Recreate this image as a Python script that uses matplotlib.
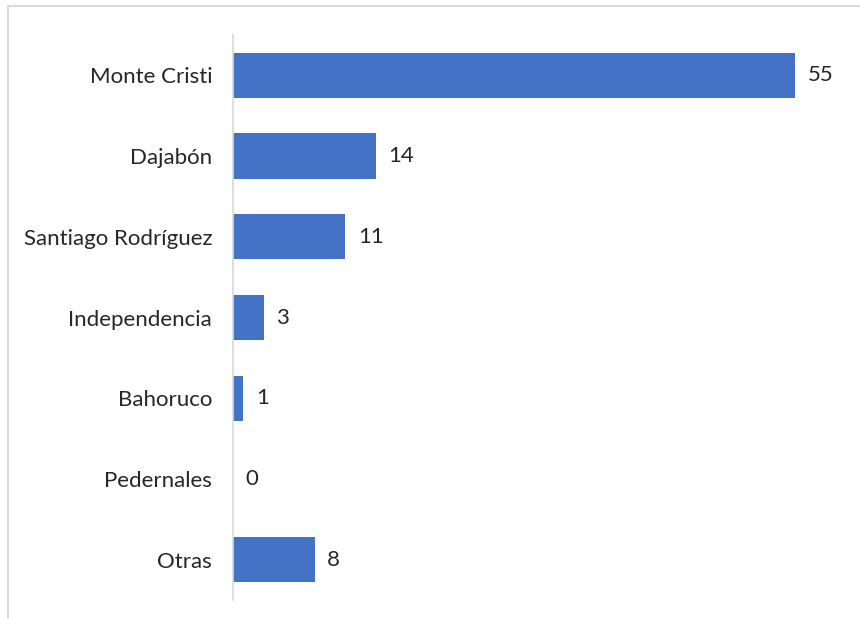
import matplotlib
matplotlib.use("Agg")
import matplotlib.pyplot as plt
from matplotlib.patches import Rectangle

provincias = ["Monte Cristi", "Dajabón", "Santiago Rodríguez", "Independencia",
              "Bahoruco", "Pedernales", "Otras"]
casos = [55, 14, 11, 3, 1, 0, 8]

W, H = 860, 618
fig = plt.figure(figsize=(W / 100, H / 100), dpi=100)
fig.patch.set_facecolor("white")

# chart area border (open on the right and bottom)
fig.add_artist(Rectangle((8 / W, -0.05), 1.2, 1 - 6 / H + 0.05,
                         transform=fig.transFigure, fill=False,
                         edgecolor="#d9d9d9", linewidth=1.5))

ax_left, ax_right = 233, 845
ax_top, ax_bottom = 35, 600
ax = fig.add_axes([ax_left / W, 1 - ax_bottom / H,
                   (ax_right - ax_left) / W, (ax_bottom - ax_top) / H])

ypos = list(range(len(provincias)))
ax.barh(ypos, casos, height=0.56, color="#4472C4")
ax.set_ylim(len(provincias) - 0.5, -0.5)
ax.set_xlim(0, 55 * (ax_right - ax_left) / (795 - ax_left))

font = "Lato"
for y, v in zip(ypos, casos):
    ax.annotate(str(v), xy=(v, y), xytext=(9, 0), textcoords="offset points",
                ha="left", va="center", fontsize=16, color="#262626",
                family=font)

ax.set_yticks(ypos)
ax.set_yticklabels(provincias, fontsize=16, color="#262626", family=font)
ax.tick_params(axis="y", length=0, pad=15)
ax.set_xticks([])
for side in ["top", "right", "bottom"]:
    ax.spines[side].set_visible(False)
ax.spines["left"].set_color("#d9d9d9")
ax.spines["left"].set_linewidth(1.2)
ax.patch.set_alpha(0)

fig.savefig("out.png", dpi=100, facecolor="white")
